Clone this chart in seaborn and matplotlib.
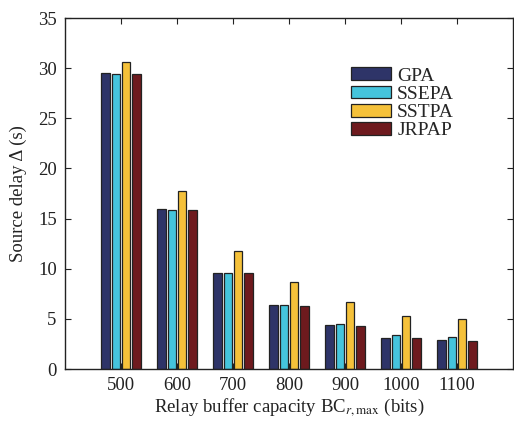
import numpy as np
import pandas as pd
import matplotlib
matplotlib.use("Agg")
import matplotlib.pyplot as plt
import seaborn as sns

# Relay buffer capacity (bits)
capacity = ["500", "600", "700", "800", "900", "1000", "1100"]

# Source delay (s) for each scheme
gpa   = [29.5, 15.95, 9.62, 6.38, 4.39, 3.09, 2.86]
ssepa = [29.4, 15.85, 9.57, 6.38, 4.52, 3.36, 3.16]
sstpa = [30.6, 17.8, 11.73, 8.64, 6.65, 5.32, 5.02]
jrpap = [29.4, 15.9, 9.56, 6.30, 4.32, 3.06, 2.82]

schemes = ["GPA", "SSEPA", "SSTPA", "JRPAP"]
colors = ["#2e3468", "#45c4dc", "#f5c13a", "#6e1a1e"]

df = pd.DataFrame({
    "capacity": capacity * 4,
    "delay": gpa + ssepa + sstpa + jrpap,
    "scheme": np.repeat(schemes, len(capacity)),
})

sns.set_style("ticks")
plt.rcParams["font.family"] = ["Liberation Serif", "DejaVu Serif"]
plt.rcParams["mathtext.fontset"] = "stix"

fig = plt.figure(figsize=(5.14, 4.26), dpi=100)
ax = fig.add_axes([0.1265, 0.1338, 0.8715, 0.8239])

sns.barplot(data=df, x="capacity", y="delay", hue="scheme",
            hue_order=schemes, palette=colors, width=0.72, gap=0.12,
            edgecolor="#222222", linewidth=0.9, saturation=1, ax=ax)

ax.set_xlim(-1, 7)
ax.set_ylim(0, 35)
ax.set_yticks(np.arange(0, 36, 5))

for s in ax.spines.values():
    s.set_visible(True)
    s.set_color("#222222")
    s.set_linewidth(1.0)
    s.set_zorder(5)

ax.tick_params(direction="in", top=True, right=True, length=4,
               width=0.8, labelsize=13.5, colors="#222222", pad=6)

ax.set_xlabel(r"Relay buffer capacity BC$_{r,\mathrm{max}}$ (bits)",
              fontsize=13.5, color="#222222", labelpad=2)
ax.set_ylabel("Source delay Δ (s)", fontsize=13.5, color="#222222", labelpad=8)

leg = ax.legend(loc="upper left", bbox_to_anchor=(0.62, 0.882), frameon=False,
                fontsize=14, handlelength=2.1, handleheight=0.65,
                labelspacing=0.05, handletextpad=0.3, borderaxespad=0)
for h in leg.legend_handles:
    h.set_edgecolor("#222222")
    h.set_linewidth(0.9)

fig.savefig("out.png", dpi=100)
